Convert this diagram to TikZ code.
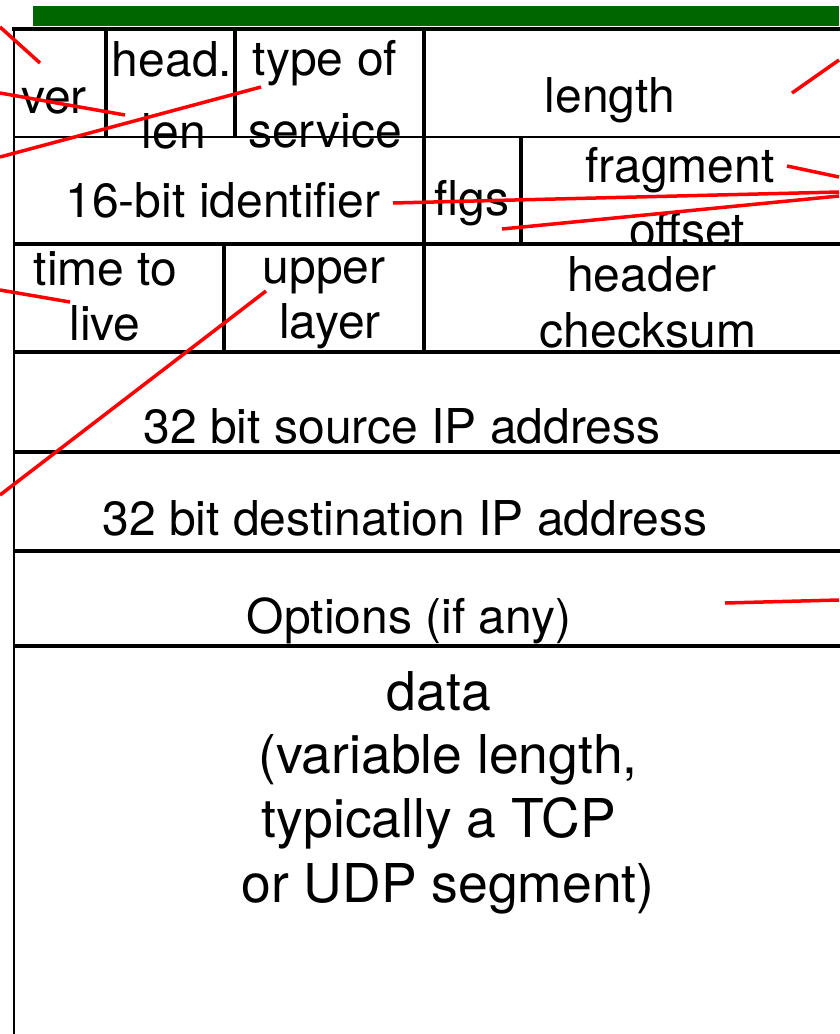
\documentclass[tikz,border=0pt]{standalone}
\usepackage{fontspec}
\setmainfont{TeX Gyre Heros}
\definecolor{hdrgreen}{RGB}{0,102,0}
\begin{document}
\begin{tikzpicture}[x=1pt,y=-1pt,
  grid/.style={line width=4pt,black},
  thin grid/.style={line width=2.8pt,black},
  ptr/.style={line width=3.5pt,red},
  lbl/.style={anchor=base,inner sep=0pt,font=\fontsize{48}{57}\selectfont},
  big lbl/.style={lbl,font=\fontsize{53.5}{64}\selectfont}]
\useasboundingbox (0,0) rectangle (839,1034);
% header bar
\fill[hdrgreen] (33,6) rectangle (839,26);
% row 1 text
\node[lbl] (ver)   at (54,113)  {ver};
\node[lbl] (hlA)   at (172,76)  {head.};
\node[lbl] (hlB)   at (174,148) {len};
\node[lbl] (tosA)  at (325,75)  {type of};
\node[lbl] (tosB)  at (325,147) {service};
\node[lbl] (len)   at (610,112) {length};
% row 2 text
\node[lbl] (ident) at (223,217) {16-bit identifier};
\node[lbl] (flgs)  at (472,215) {flgs};
\node[lbl] (fragA) at (680,182) {fragment};
\begin{scope}
  \clip (0,0) rectangle (839,242);
  \node[lbl] (fragB) at (687,247) {offset};
\end{scope}
% row 3 text
\node[lbl] (ttlA)  at (105.5,285) {time to};
\node[lbl] (ttlB)  at (105,340)   {live};
\node[lbl] (ulA)   at (324,283)   {upper};
\node[lbl] (ulB)   at (330,338)   {layer};
\node[lbl] (ckA)   at (642,291)   {header};
\node[lbl] (ckB)   at (648,347)   {checksum};
% rows 4-7 text
\node[lbl] (src)   at (402,443) {32 bit source IP address};
\node[lbl] (dst)   at (405,535) {32 bit destination IP address};
\node[lbl] (opt)   at (409,633) {Options (if any)};
\node[big lbl] (dA) at (439,710) {data};
\node[big lbl] (dB) at (448,773) {(variable length,};
\node[big lbl] (dC) at (439,837) {typically a TCP};
\node[big lbl] (dD) at (448,902) {or UDP segment)};
% grid lines
\draw[thin grid] (14,27) -- (14,1040);
\draw[grid] (12,28.5) -- (845,28.5);
\draw[thin grid] (14,137) -- (845,137);
\draw[grid] (14,243.5) -- (845,243.5);
\draw[grid] (14,352) -- (845,352);
\draw[grid] (14,452) -- (845,452);
\draw[grid] (14,551) -- (845,551);
\draw[grid] (14,645.5) -- (845,645.5);
\draw[grid] (106,28.5) -- (106,137);
\draw[grid] (235,28.5) -- (235,137);
\draw[grid] (424,28.5) -- (424,352);
\draw[grid] (520.5,137) -- (520.5,243.5);
\draw[grid] (223.5,243.5) -- (223.5,352);
% pointer ends
\coordinate (o1) at (0,27);    \coordinate (t1) at (40,63);
\coordinate (o2) at (0,93);    \coordinate (t2) at (125,115);
\coordinate (o3) at (0,157);   \coordinate (t3) at (261,87);
\coordinate (o4) at (839,192); \coordinate (t4) at (393,203);
\coordinate (o5) at (839,196); \coordinate (t5) at (502,229);
\coordinate (o6) at (839,177); \coordinate (t6) at (787,166);
\coordinate (o7) at (839,60);  \coordinate (t7) at (792,93);
\coordinate (o8) at (0,290);   \coordinate (t8) at (70,302);
\coordinate (o9) at (0,495);   \coordinate (t9) at (266,291);
\coordinate (o10) at (839,600); \coordinate (t10) at (725,603);
\foreach \i in {1,...,10} { \draw[ptr] (o\i) -- (t\i); }
\end{tikzpicture}
\end{document}
